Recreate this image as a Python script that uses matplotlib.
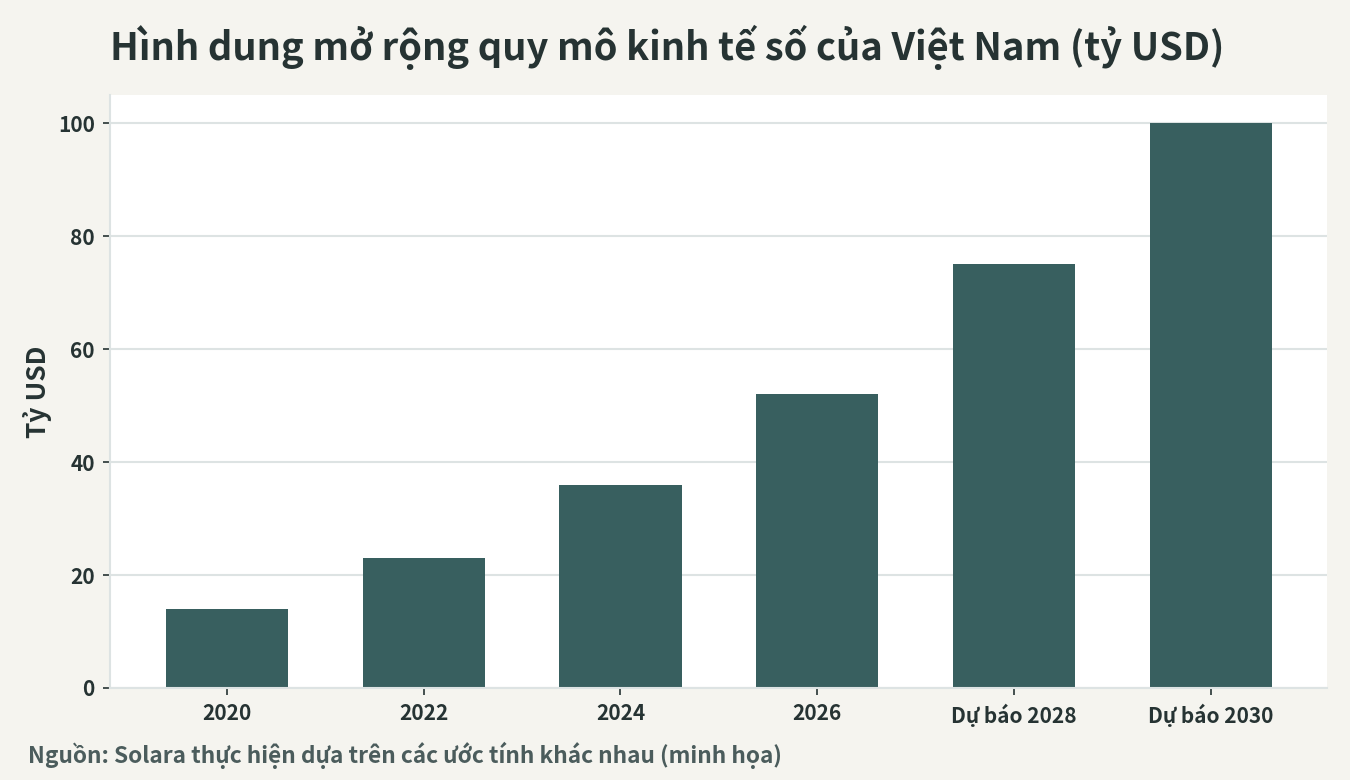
import numpy as np
import matplotlib.pyplot as plt

years = ["2020", "2022", "2024", "2026", "Dự báo 2028", "Dự báo 2030"]
values = [14, 23, 36, 52, 75, 100]
yticks = [0, 20, 40, 60, 80, 100]

bg = "#f5f4ef"
barcolor = "#385f5f"
textcolor = "#263333"
gridcolor = "#dde3e3"

plt.rcParams["font.family"] = ["Noto Sans CJK SC", "DejaVu Sans"]
plt.rcParams["font.weight"] = "bold"

fig = plt.figure(figsize=(13.5, 7.8), dpi=100, facecolor=bg)
ax = fig.add_axes([110 / 1350, 1 - 688 / 780, (1327 - 110) / 1350, (688 - 95) / 780])
ax.set_facecolor("white")

x = np.arange(len(years))
ax.bar(x, values, width=0.62, color=barcolor, zorder=2)

ax.set_xticks(x)
ax.set_xticklabels(years)
ax.set_yticks(yticks)
ax.set_ylim(0, 105)
ax.set_xlim(-0.594, 5.59)

ax.grid(axis="y", color=gridcolor, linewidth=1.5, zorder=0)
ax.set_axisbelow(True)
for s in ["top", "right"]:
    ax.spines[s].set_visible(False)
for s in ["left", "bottom"]:
    ax.spines[s].set_color(gridcolor)
    ax.spines[s].set_linewidth(1.5)

ax.tick_params(axis="both", colors=textcolor, labelsize=15, length=5, width=1.2, pad=6)
for lab in ax.get_xticklabels() + ax.get_yticklabels():
    lab.set_fontweight("bold")

ax.set_ylabel("Tỷ USD", fontsize=19, fontweight="bold", color=textcolor, labelpad=4)

fig.text(110 / 1350, 1 - 47 / 780, "Hình dung mở rộng quy mô kinh tế số của Việt Nam (tỷ USD)",
         fontsize=27.4, fontweight="bold", color=textcolor, va="center", ha="left")
fig.text(28 / 1350, 1 - 755 / 780, "Nguồn: Solara thực hiện dựa trên các ước tính khác nhau (minh họa)",
         fontsize=16.3, fontweight="bold", color="#4b5c5c", va="center", ha="left")

fig.savefig("out.png", dpi=100, facecolor=bg)
